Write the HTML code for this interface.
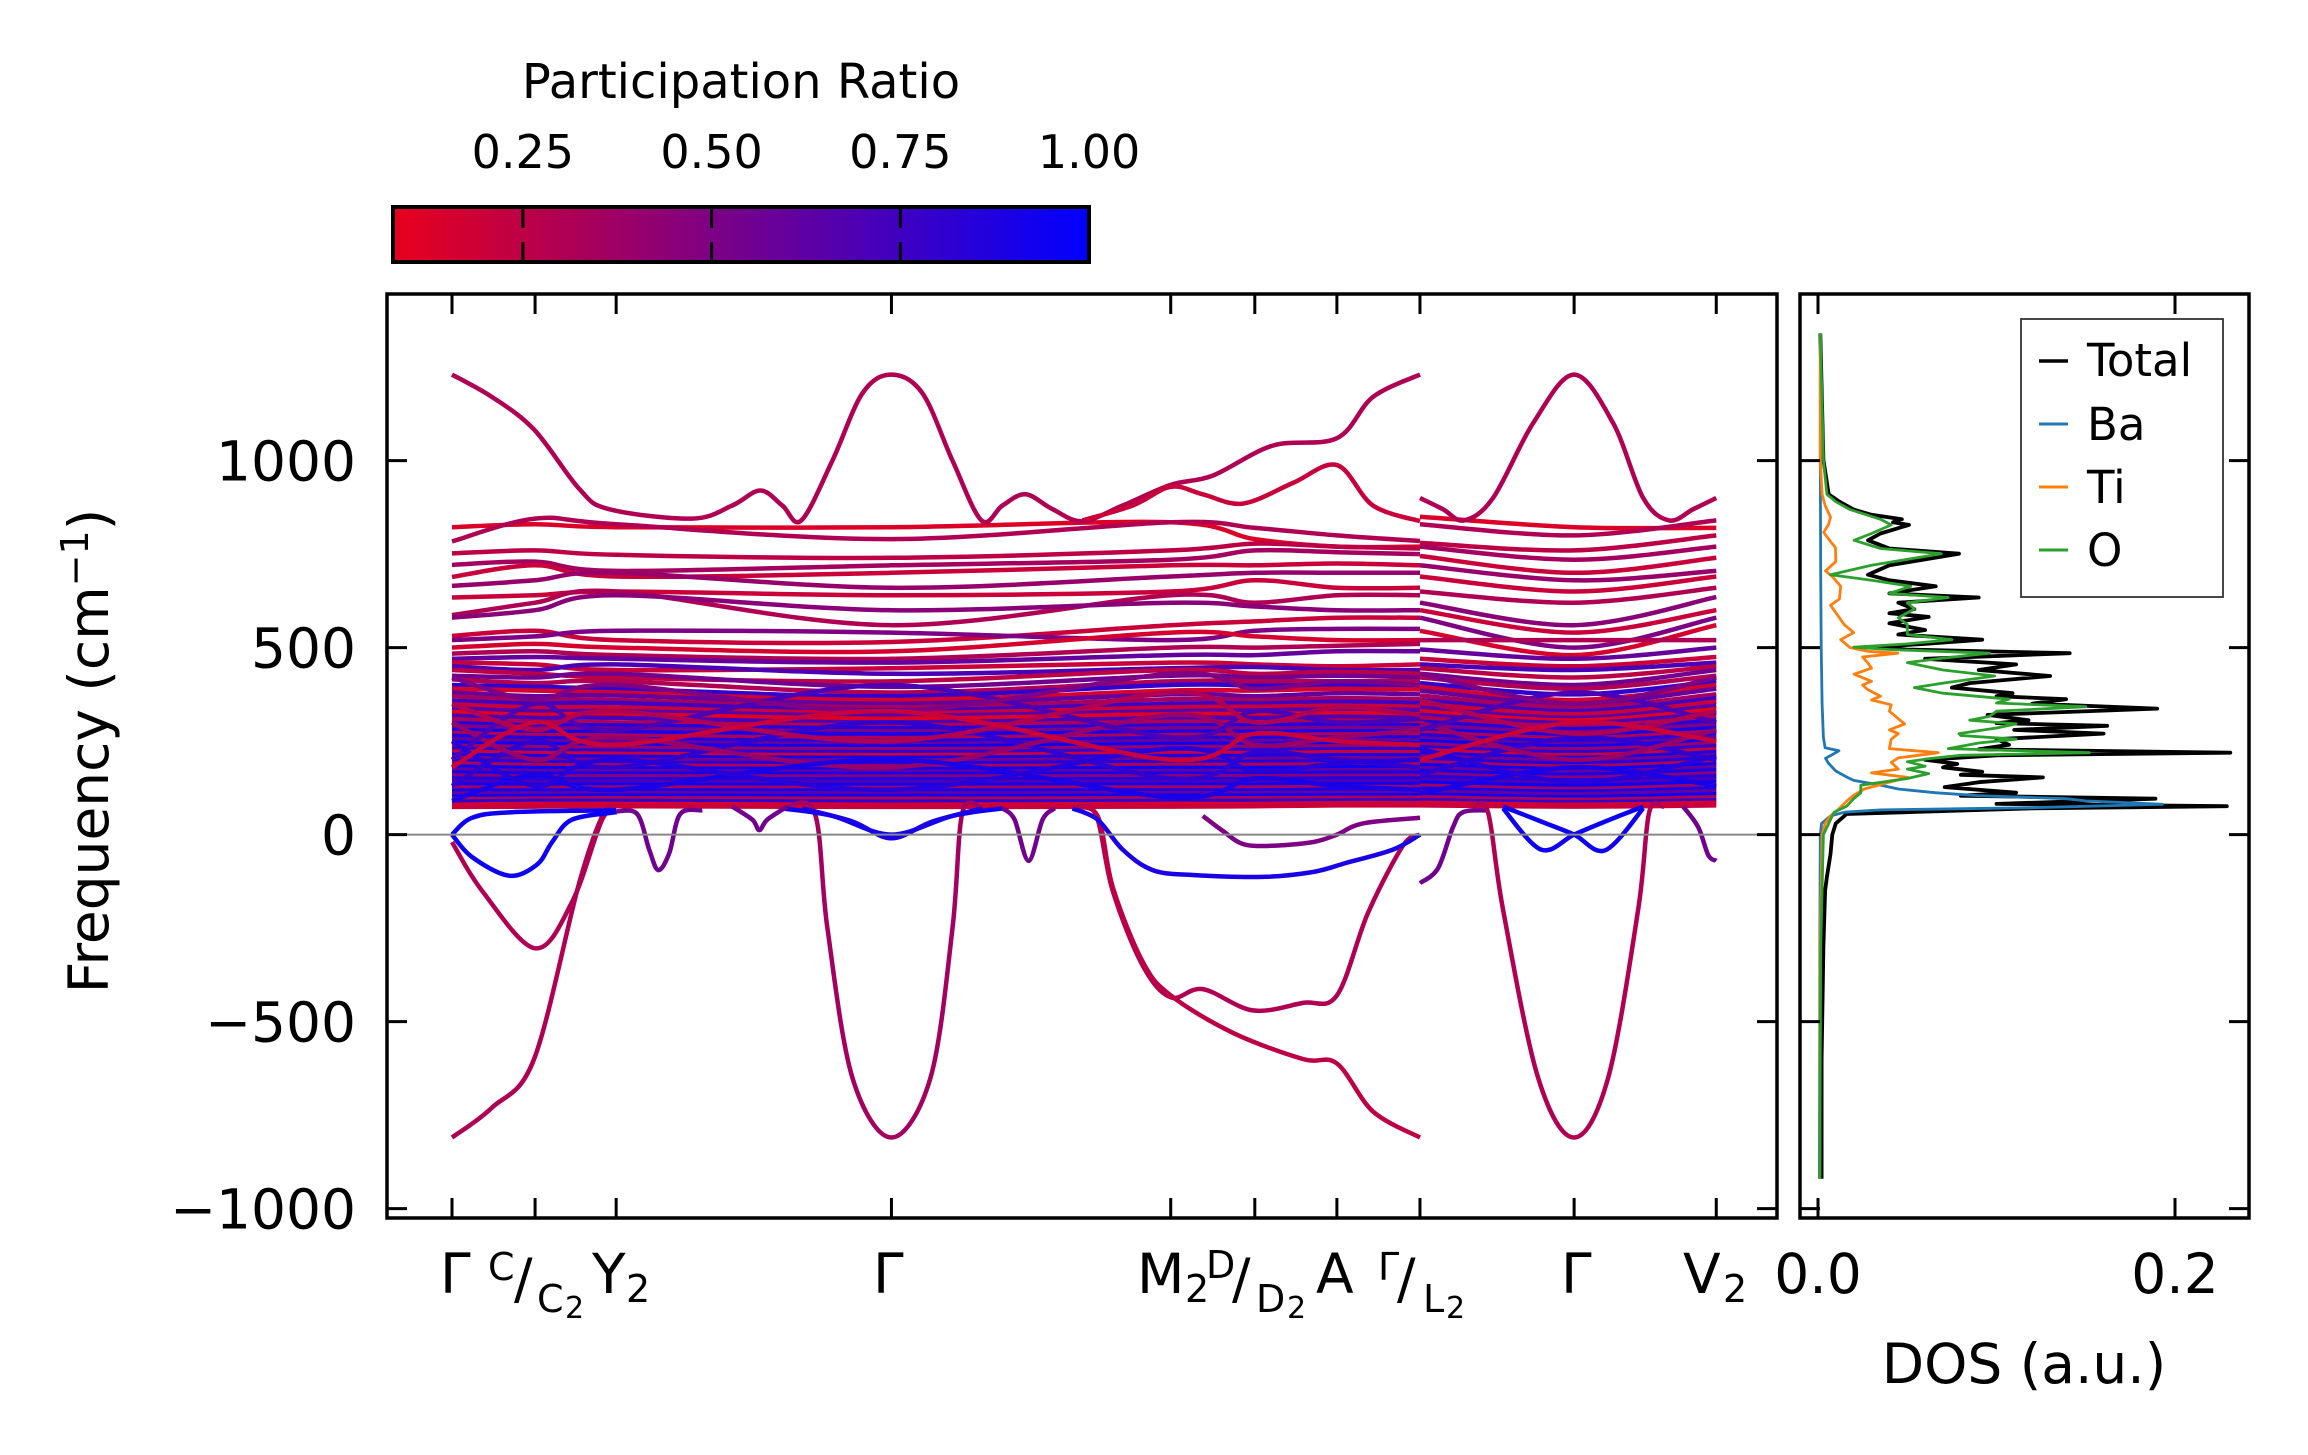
<!DOCTYPE html>
<html><head><meta charset="utf-8"><style>
html,body{margin:0;padding:0;background:#fff}
svg{display:block;font-family:"DejaVu Sans","Liberation Sans",sans-serif}
</style></head><body>
<svg id="fig" width="2308" height="1455" viewBox="0 0 2308 1455" xmlns="http://www.w3.org/2000/svg">
<defs>
<linearGradient id="cbgrad" x1="0" y1="0" x2="1" y2="0">
<stop offset="0" stop-color="rgb(232,0,28)"/><stop offset="1" stop-color="rgb(0,0,255)"/>
</linearGradient>
<clipPath id="mainclip"><rect x="387" y="294" width="1390" height="924"/></clipPath>
<clipPath id="dosclip"><rect x="1800" y="294" width="449" height="924"/></clipPath>
</defs>
<rect width="2308" height="1455" fill="#fff"/>
<g>
<text x="741" y="98" font-size="48" text-anchor="middle">Participation Ratio</text>
<rect x="393" y="207" width="696" height="55" fill="url(#cbgrad)" stroke="#000" stroke-width="4"/>
<g id="cbticks"></g>
</g>
<g>
<g id="bands" clip-path="url(#mainclip)"></g>
<line x1="387" x2="1777" y1="834.6" y2="834.6" stroke="#888" stroke-width="2"/>
<rect x="387" y="294" width="1390" height="924" fill="none" stroke="#000" stroke-width="3.5"/>
<g id="mainticks"></g>
<g font-size="55">
<text x="440" y="1293">Γ</text>
<text x="488" y="1280" font-size="38">C</text>
<text x="514" y="1298">/</text>
<text x="537" y="1312" font-size="38">C</text>
<text x="565" y="1318" font-size="30">2</text>
<text x="592" y="1293">Y</text>
<text x="626" y="1302" font-size="38">2</text>
<text x="873" y="1293">Γ</text>
<text x="1137" y="1293">M</text>
<text x="1185" y="1302" font-size="38">2</text>
<text x="1206" y="1278" font-size="38">D</text>
<text x="1232" y="1298">/</text>
<text x="1256" y="1312" font-size="38">D</text>
<text x="1287" y="1318" font-size="30">2</text>
<text x="1316" y="1293">A</text>
<text x="1378" y="1280" font-size="38">Γ</text>
<text x="1397" y="1298">/</text>
<text x="1423" y="1312" font-size="38">L</text>
<text x="1446" y="1318" font-size="30">2</text>
<text x="1561" y="1293">Γ</text>
<text x="1683" y="1293">V</text>
<text x="1723" y="1302" font-size="38">2</text>
</g>
<text transform="translate(108,751) rotate(-90)" font-size="55" text-anchor="middle">Frequency (cm<tspan font-size="38" dy="-20">−1</tspan><tspan dy="20">)</tspan></text>
</g>
<g>
<g id="dos" clip-path="url(#dosclip)"></g>
<rect x="1800" y="294" width="449" height="924" fill="none" stroke="#000" stroke-width="3.5"/>
<g id="dosticks"></g>
<text x="2024" y="1383" font-size="55" text-anchor="middle">DOS (a.u.)</text>
<g>
<rect x="2021" y="319" width="202" height="278" fill="#fff" stroke="#333" stroke-width="1.8"/>
<line x1="2039" x2="2068" y1="361" y2="361" stroke="#000" stroke-width="3.5"/>
<text x="2087" y="376" font-size="45">Total</text>
<line x1="2039" x2="2068" y1="424" y2="424" stroke="#1f77b4" stroke-width="3"/>
<text x="2087" y="440" font-size="45">Ba</text>
<line x1="2039" x2="2068" y1="487" y2="487" stroke="#ff7f0e" stroke-width="3"/>
<text x="2087" y="503" font-size="45">Ti</text>
<line x1="2039" x2="2068" y1="550" y2="550" stroke="#2ca02c" stroke-width="3"/>
<text x="2087" y="566" font-size="45">O</text>
</g>
</g>
</svg>
<script>
const kTicks = [0,0.83,1.64,4.39,7.18,8.02,8.84,9.67,11.21,12.63];
const yTicks = [1000,500,0,-500,-1000];
const yTickLabels = ["1000","500","0","−500","−1000"];
const cbTicks = [0.25,0.5,0.75,1.0];
const cbTickLabels = ["0.25","0.50","0.75","1.00"];
const dosTicks = [0.0,0.2];
const dosTickLabels = ["0.0","0.2"];
const seg1K = [0,0.83,1.64,4.39,7.18,8.02,8.84,9.67];
const seg2K = [9.67,11.21,12.63];
const bandFreqs = [
[822,830,822,822,835,790,770,770, 850,822,820],
[784,845,830,790,835,820,800,785, 830,800,840],
[752,760,748,740,760,778,770,765, 780,760,800],
[721,730,705,720,735,760,755,750, 770,735,770],
[689,720,690,700,720,720,725,720, 745,700,740],
[665,680,700,660,690,700,700,700, 720,680,705],
[634,640,650,640,650,680,660,660, 690,650,690],
[587,620,650,560,640,620,640,640, 650,620,660],
[580,600,640,600,620,610,600,600, 620,560,635],
[531,545,520,515,560,570,580,580, 600,540,600],
[520,530,545,540,520,545,550,550, 580,500,580],
[500,510,500,490,540,530,520,520, 545,480,560],
[484,490,480,470,500,500,505,510, 520,520,520],
[470,475,470,460,480,480,490,490, 495,470,500],
[460,455,440,445,460,455,450,455, 470,450,475],
[450,440,455,430,445,448,440,440, 455,440,460],
[440,430,420,410,440,430,435,430, 445,420,450],
[425,420,430,395,425,420,425,420, 430,400,440],
[415,405,410,380,410,410,410,410, 420,390,425],
[400,395,390,370,400,398,400,395, 405,375,410],
[390,385,380,360,385,385,390,388, 395,360,400],
[380,370,372,350,375,370,378,375, 385,350,390],
[370,360,360,340,362,360,365,362, 372,340,375],
[358,350,352,332,350,350,355,352, 360,330,365],
[348,340,340,325,340,342,345,342, 350,322,355],
[338,330,330,318,330,332,335,333, 340,312,345],
[328,320,322,310,322,322,325,322, 330,305,335],
[318,312,312,300,312,312,315,312, 320,298,325],
[308,302,300,292,302,300,305,302, 312,290,315],
[298,292,292,284,292,292,295,292, 302,282,305],
[290,284,283,276,284,284,285,285, 292,274,295],
[280,275,274,268,275,275,276,276, 282,266,285],
[272,266,265,258,266,266,268,268, 274,258,276],
[264,258,256,250,258,258,260,260, 266,250,268],
[255,250,248,242,250,250,252,252, 258,242,260],
[246,242,240,235,242,242,244,244, 250,235,252],
[238,234,232,228,234,234,236,236, 242,228,244],
[230,226,224,220,226,226,228,228, 234,220,236],
[222,218,216,212,218,218,220,220, 226,212,228],
[214,210,208,205,210,210,212,212, 218,205,220],
[206,202,200,198,202,202,204,204, 210,198,212],
[198,194,192,190,194,194,196,196, 202,190,204],
[190,186,185,182,186,186,188,188, 194,182,196],
[182,178,177,175,178,178,180,180, 186,175,188],
[174,170,170,168,170,170,172,172, 178,168,180],
[166,163,163,162,163,163,165,165, 170,160,172],
[158,155,156,155,156,156,157,157, 162,152,164],
[150,148,148,148,148,148,150,150, 155,145,156],
[142,140,141,140,141,141,142,142, 147,138,148],
[134,132,133,132,133,133,134,134, 139,130,140],
[126,125,126,125,126,126,127,127, 131,122,132],
[118,118,118,118,118,118,120,120, 123,115,124],
[110,110,111,110,111,111,112,112, 115,108,116],
[102,103,104,103,104,104,105,105, 107,100,108],
[95,96,97,96,97,97,98,98, 100,93,100],
[88,90,90,88,90,90,91,91, 92,86,92],
[80,82,82,80,82,82,84,84, 85,80,85],
[74,75,76,74,75,76,78,78, 78,75,78],
[130,250,180,300,150,220,200,180, 160,260,200],
[300,200,260,180,320,240,260,280, 300,200,280],
[200,350,280,400,260,330,300,310, 280,380,300],
[350,280,330,250,380,300,340,320, 360,270,330],
[90,160,120,200,100,150,130,120, 110,180,130],
[420,360,400,330,430,390,410,400, 430,350,420],
[250,130,200,120,230,170,190,200, 230,140,210],
[180,300,240,330,200,270,250,240, 200,300,250]
];
const bandPR = [0.12,0.3,0.25,0.35,0.2,0.4,0.2,0.3,0.45,0.2,0.5,0.15,0.3,0.6,
0.2,0.7,0.25,0.55,0.3,0.8,0.15,0.6,0.35,0.75,0.2,0.65,0.1,0.7,0.3,
0.85,0.5,0.9,0.3,0.85,0.6,0.95,0.4,0.8,0.2,0.9,0.55,0.85,0.3,0.95,0.6,0.9,0.45,0.85,0.7,0.95,0.35,0.9,0.6,0.95,0.3,0.8,0.15,0.2,
0.8,0.4,0.7,0.3,0.9,0.5,0.85,0.2];
const specialBranches = [
[[0,1230],[0.4,1170],[0.82,1083],[1.27,925],[1.57,870],[2.4,845],[2.8,880],[3.08,920],[3.3,880],[3.49,840],[3.8,1000],[4.1,1180],[4.39,1230],[4.7,1180],[5.0,1000],[5.29,840],[5.5,880],[5.73,910],[6.0,870],[6.3,838],[6.7,880],[7.18,935],[7.6,960],[8.2,1040],[8.84,1060],[9.2,1170],[9.67,1230]],
[[9.67,900],[9.9,870],[10.11,840],[10.4,900],[10.8,1100],[11.21,1230],[11.6,1100],[11.9,900],[12.16,840],[12.4,870],[12.63,900]],
[[6.3,840],[6.8,880],[7.18,930],[7.5,910],[7.9,885],[8.4,940],[8.84,988],[9.2,880],[9.67,838]],
[[0,-810],[0.4,-730],[0.82,-600],[1.27,-130],[1.52,60],[1.64,65]],
[[0,-20],[0.3,-150],[0.83,-304],[1.2,-180],[1.5,40],[1.64,60]],
[[0,0],[0.2,-60],[0.57,-110],[0.85,-80],[1.0,-20],[1.2,40],[1.64,60]],
[[0,0],[0.2,45],[0.6,60],[1.64,65]],
[[1.64,62],[1.85,55],[1.97,-40],[2.06,-95],[2.17,-50],[2.28,55],[2.5,65]],
[[3.3,70],[3.62,60],[3.75,-250],[4.0,-650],[4.39,-810],[4.78,-650],[5.0,-250],[5.1,60],[5.3,70]],
[[3.3,70],[3.8,50],[4.39,0],[5.0,50],[5.5,70]],
[[3.5,70],[4.0,35],[4.39,-10],[4.8,35],[5.3,70]],
[[2.8,75],[3.0,40],[3.07,12],[3.15,40],[3.35,75]],
[[5.5,70],[5.62,40],[5.76,-70],[5.9,40],[6.02,70]],
[[6.2,72],[6.43,55],[6.6,-150],[6.9,-350],[7.18,-435],[7.5,-413],[8.0,-470],[8.5,-450],[8.84,-430],[9.15,-210],[9.5,-30],[9.67,0]],
[[6.2,72],[6.45,50],[6.6,-140],[6.9,-340],[7.18,-430],[7.8,-530],[8.5,-600],[8.84,-612],[9.2,-740],[9.67,-810]],
[[6.2,70],[6.45,40],[6.7,-40],[7.0,-95],[7.4,-108],[8.1,-113],[8.6,-100],[8.93,-76],[9.4,-40],[9.67,0]],
[[7.5,50],[7.7,10],[7.9,-25],[8.18,-30],[8.6,-20],[8.84,0],[9.1,30],[9.67,45]],
[[9.67,-130],[9.85,-90],[10.0,20],[10.1,60],[10.35,65]],
[[10.2,75],[10.35,60],[10.5,-200],[10.85,-650],[11.21,-810],[11.55,-650],[11.85,-200],[11.96,60],[12.1,75]],
[[10.5,70],[10.88,-40],[11.21,0],[11.52,35],[11.9,75]],
[[10.5,75],[10.88,35],[11.21,0],[11.52,-42],[11.9,70]],
[[12.3,75],[12.45,20],[12.55,-55],[12.63,-70]]
];
const specialPR = [0.3,0.3,0.2,0.3,0.3,0.95,0.95,0.55,0.35,0.95,0.9,0.55,0.55,0.3,0.25,0.9,0.5,0.55,0.3,0.95,0.95,0.55];
const totalF = [-920,-600,-300,-150,-113,-52,0,30,55,70,76,82,96,104,112,127,140,153,160,168,180,189,200,212,219,228,240,255,270,280,291,298,306,320,337,350,362,370,378,393,405,424,440,455,470,485,495,501,510,521,535,547,565,582,592,603,620,634,645,664,680,695,720,751,765,787,805,828,835,843,855,869,890,910,1002,1340];
const totalV = [.002,.002,.003,.004,.005,.007,.008,.010,.016,.12,.229,.10,.189,.08,.111,.071,.09,.126,.08,.092,.07,.078,.06,.10,.231,.09,.107,.10,.160,.11,.162,.10,.118,.095,.190,.12,.139,.10,.109,.075,.085,.130,.09,.111,.06,.141,.05,.028,.06,.092,.045,.060,.04,.062,.04,.054,.045,.090,.04,.066,.04,.028,.04,.079,.04,.028,.035,.051,.042,.047,.03,.020,.012,.006,.003,.0013];
const oF = [-920,-300,0,30,60,76,96,112,132,150,163,175,183,195,204,212,219,230,245,255,265,270,285,296,306,316,330,342,352,362,378,393,405,424,440,460,472,485,495,501,510,521,535,562,580,603,620,634,645,664,680,695,720,751,765,787,805,828,843,869,890,910,1002,1340];
const oV = [.001,.0015,.003,.006,.009,.016,.02,.024,.024,.05,.062,.05,.060,.05,.064,.08,.152,.073,.09,.111,.08,.079,.10,.111,.085,.096,.10,.150,.10,.107,.07,.054,.07,.099,.07,.050,.07,.096,.04,.020,.05,.075,.05,.050,.045,.054,.05,.073,.04,.052,.03,.007,.03,.069,.035,.0202,.03,.041,.035,.018,.01,.005,.003,.0013];
const tiF = [-920,-300,0,30,50,70,91,105,122,140,153,165,175,193,205,219,230,255,270,280,296,310,330,347,360,370,388,400,410,429,445,460,475,485,490,500,521,540,562,580,613,630,664,690,705,730,767,790,808,830,849,880,910,1000,1340];
const tiV = [.001,.0012,.0023,.004,.007,.012,.0164,.02,.0259,.04,.0504,.03,.045,.041,.045,.0674,.04,.041,.045,.04,.0485,.045,.04,.041,.03,.035,.0278,.025,.03,.0202,.03,.0278,.025,.0447,.0278,.018,.0127,.02,.0146,.012,.007,.012,.0127,.008,.0042,.01,.0098,.006,.0032,.006,.007,.004,.0023,.0013,.0013];
const baF = [-920,-300,0,30,50,60,66,72,81,90,96,104,112,122,132,145,153,170,190,204,214,224,232,260,350,500,700,1000,1340];
const baV = [.0008,.001,.0013,.002,.007,.015,.035,.12,.193,.15,.139,.09,.0655,.045,.0353,.02,.0164,.01,.006,.0042,.008,.0117,.004,.003,.0023,.0018,.0015,.0013,.0013];

const NS = "http://www.w3.org/2000/svg";
function xK(k){ return 452 + k*100.1; }
function yF(f){ return 834.6 - f*0.374; }
function xD(v){ return 1818 + v*1785; }
function xCB(p){ return 393 + (p-0.078)*755; }
function prColor(p){
  let t=(p-0.078)/(1-0.078); t=Math.max(0,Math.min(1,t));
  return "rgb("+Math.round(232*(1-t))+",0,"+Math.round(28+(255-28)*t)+")";
}
function smoothPath(pts){
  let d="M"+pts[0][0].toFixed(1)+","+pts[0][1].toFixed(1);
  for(let i=0;i<pts.length-1;i++){
    const p0=pts[Math.max(0,i-1)],p1=pts[i],p2=pts[i+1],p3=pts[Math.min(pts.length-1,i+2)];
    const c1x=p1[0]+(p2[0]-p0[0])/6,c1y=p1[1]+(p2[1]-p0[1])/6;
    const c2x=p2[0]-(p3[0]-p1[0])/6,c2y=p2[1]-(p3[1]-p1[1])/6;
    d+=" C"+c1x.toFixed(1)+","+c1y.toFixed(1)+" "+c2x.toFixed(1)+","+c2y.toFixed(1)+" "+p2[0].toFixed(1)+","+p2[1].toFixed(1);
  }
  return d;
}
function mk(tag,attrs,parent){
  const el=document.createElementNS(NS,tag);
  for(const a in attrs) el.setAttribute(a,attrs[a]);
  parent.appendChild(el); return el;
}
const bandsG=document.getElementById("bands");
bandFreqs.forEach((b,i)=>{
  const c=prColor(bandPR[i]);
  const p1=seg1K.map((k,j)=>[xK(k),yF(b[j])]);
  const p2=seg2K.map((k,j)=>[xK(k),yF(b[8+j])]);
  const e1=mk("path",{d:smoothPath(p1),fill:"none",stroke:c,"stroke-width":4.5},bandsG);
  
  
  const e2=mk("path",{d:smoothPath(p2),fill:"none",stroke:c,"stroke-width":4.5},bandsG);
  
  
});
specialBranches.forEach((br,i)=>{
  const pts=br.map(p=>[xK(p[0]),yF(p[1])]);
  const e=mk("path",{d:smoothPath(pts),fill:"none",stroke:prColor(specialPR[i]),"stroke-width":4.5},bandsG);
  
  
});
const mt=document.getElementById("mainticks");
kTicks.forEach(k=>{
  const x=xK(k);
  const a=mk("line",{x1:x,x2:x,y1:294,y2:314,stroke:"#000","stroke-width":3},mt);
  
  
  const b=mk("line",{x1:x,x2:x,y1:1218,y2:1198,stroke:"#000","stroke-width":3},mt);
  
  
});
yTicks.forEach((f,i)=>{
  const y=yF(f);
  const a=mk("line",{x1:387,x2:407,y1:y,y2:y,stroke:"#000","stroke-width":3},mt);
  
  
  const b=mk("line",{x1:1777,x2:1757,y1:y,y2:y,stroke:"#000","stroke-width":3},mt);
  
  
  const t=mk("text",{x:356,y:y+20,"font-size":55,"text-anchor":"end"},mt);
  t.textContent=yTickLabels[i];
  
  
});
const cbt=document.getElementById("cbticks");
cbTicks.forEach((p,i)=>{
  const x=xCB(p);
  if(p<1){
    const a=mk("line",{x1:x,x2:x,y1:207,y2:228,stroke:"#000","stroke-width":3},cbt);
    
    
    const b=mk("line",{x1:x,x2:x,y1:242,y2:262,stroke:"#000","stroke-width":3},cbt);
    
    
  }
  const t=mk("text",{x:x,y:168,"font-size":46,"text-anchor":"middle"},cbt);
  t.textContent=cbTickLabels[i];
  
  
});
const dosG=document.getElementById("dos");
function dosLine(F,V,color,w,name){
  const pts=F.map((f,i)=>xD(V[i]).toFixed(1)+","+yF(f).toFixed(1)).join(" ");
  const e=mk("polyline",{points:pts,fill:"none",stroke:color,"stroke-width":w,"stroke-linejoin":"round"},dosG);
  
  
}
dosLine(totalF,totalV,"#000",3.8,"dos-total");
dosLine(baF,baV,"#1f77b4",2.8,"dos-ba");
dosLine(tiF,tiV,"#ff7f0e",2.8,"dos-ti");
dosLine(oF,oV,"#2ca02c",2.8,"dos-o");
const dt=document.getElementById("dosticks");
dosTicks.forEach((v,i)=>{
  const x=xD(v);
  const a=mk("line",{x1:x,x2:x,y1:294,y2:314,stroke:"#000","stroke-width":3},dt);
  
  
  const b=mk("line",{x1:x,x2:x,y1:1218,y2:1198,stroke:"#000","stroke-width":3},dt);
  
  
  const t=mk("text",{x:x,y:1293,"font-size":55,"text-anchor":"middle"},dt);
  t.textContent=dosTickLabels[i];
  
  
});
yTicks.forEach(f=>{
  const y=yF(f);
  const a=mk("line",{x1:1800,x2:1820,y1:y,y2:y,stroke:"#000","stroke-width":3},dt);
  
  
  const b=mk("line",{x1:2249,x2:2229,y1:y,y2:y,stroke:"#000","stroke-width":3},dt);
  
  
});
</script>
</body></html>
